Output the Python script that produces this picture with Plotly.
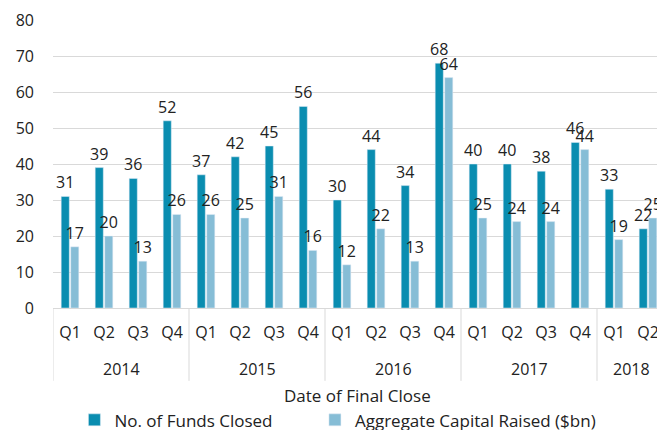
import plotly.graph_objects as go

years = ["2014"]*4 + ["2015"]*4 + ["2016"]*4 + ["2017"]*4 + ["2018"]*2
quarters = ["Q1", "Q2", "Q3", "Q4"]*4 + ["Q1", "Q2"]
year_labels = ["2014", "2015", "2016", "2017", "2018"]
funds_closed = [31, 39, 36, 52, 37, 42, 45, 56, 30, 44, 34, 68, 40, 40, 38, 46, 33, 22]
capital_raised = [17, 20, 13, 26, 26, 25, 31, 16, 12, 22, 13, 64, 25, 24, 24, 44, 19, 25]

dark = "#0A8DB0"
light = "#86BDD6"
grid = "#d9d9d9"
font = "Open Sans"
xs = list(range(len(quarters)))

fig = go.Figure()
fig.add_bar(x=xs, y=funds_closed, name="No. of Funds Closed",
            marker_color=dark, text=[str(v) for v in funds_closed],
            textposition="outside", cliponaxis=False, constraintext="none",
            textfont=dict(size=16, color="#222"), legend="legend")
fig.add_bar(x=xs, y=capital_raised, name="Aggregate Capital Raised ($bn)",
            marker_color=light, text=[str(v) for v in capital_raised],
            textposition="outside", cliponaxis=False, constraintext="none",
            textfont=dict(size=16, color="#222"), legend="legend2")

annotations = []
shapes = []
bounds = [-0.5]
for yl in year_labels:
    idx = [i for i, y in enumerate(years) if y == yl]
    annotations.append(dict(text=yl, x=sum(idx)/len(idx), xref="x", y=-0.212, yref="paper",
                            xanchor="center", yanchor="middle", showarrow=False,
                            font=dict(size=16)))
    bounds.append(idx[-1] + 0.5)
for b in bounds:
    shapes.append(dict(type="line", x0=b, x1=b, xref="x", y0=0, y1=-0.253, yref="paper",
                       line=dict(color=grid, width=1)))
annotations.append(dict(text="Date of Final Close", x=0.497, xref="paper", y=-0.303,
                        yref="paper", xanchor="center", yanchor="middle",
                        showarrow=False, font=dict(size=17)))

legend_style = dict(orientation="h", xanchor="left", y=-0.39, yanchor="middle",
                    font=dict(size=17), itemwidth=30, bgcolor="rgba(0,0,0,0)")

fig.update_layout(
    width=657, height=422,
    margin=dict(l=45, r=0, t=12, b=122, autoexpand=False),
    plot_bgcolor="white", paper_bgcolor="white",
    font=dict(family=font, size=16, color="#222"),
    barmode="group", bargap=0.44, bargroupgap=0.15,
    showlegend=True,
    legend=dict(x=0.035, **legend_style),
    legend2=dict(x=0.428, **legend_style),
    annotations=annotations,
    shapes=shapes,
)
fig.update_yaxes(range=[0, 80], dtick=10, showgrid=True, gridcolor=grid,
                 zeroline=False, showline=False, ticks="", tickfont=dict(size=16),
                 ticklabelstandoff=18)
fig.update_xaxes(range=[-0.5, 17.5], tickvals=xs, ticktext=quarters,
                 showline=True, linecolor=grid, tickfont=dict(size=16), showgrid=False,
                 ticks="", ticklabelstandoff=10, zeroline=False)

fig.write_html("out.html")
